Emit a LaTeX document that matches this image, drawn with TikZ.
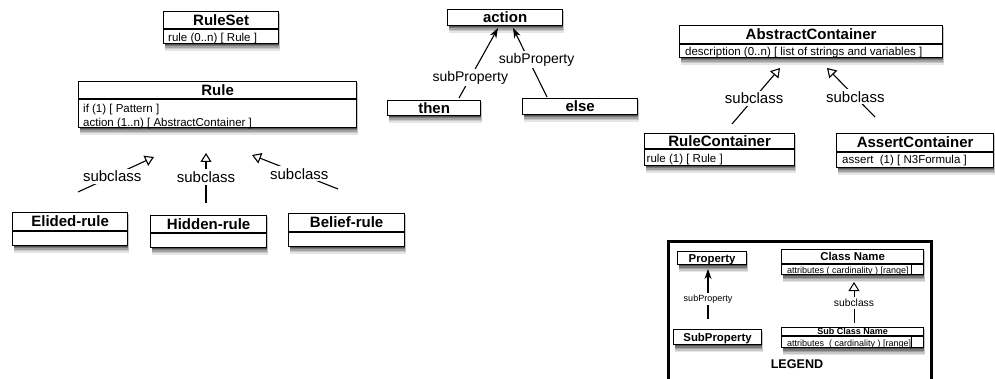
\documentclass[tikz,border=0pt]{standalone}
\usepackage{fontspec}
\setmainfont{Liberation Sans}
\usetikzlibrary{arrows.meta}
\tikzset{
  cls/.style={draw, line width=1.2pt, fill=white, inner sep=0pt, anchor=north west},
  ttl/.style={font=\fontsize{15}{15}\selectfont\bfseries, inner sep=0pt, text height=10.8pt, text depth=0pt},
  lttl/.style={font=\fontsize{11.4}{12}\selectfont\bfseries, inner sep=0pt, text height=8.2pt, text depth=0pt},
  sttl/.style={font=\fontsize{9}{10}\selectfont\bfseries, inner sep=0pt, text height=6.5pt, text depth=0pt},
  attr/.style={font=\fontsize{11.5}{12}\selectfont, inner sep=0pt, anchor=base west},
  lattr/.style={font=\fontsize{9}{10}\selectfont, inner sep=0pt, anchor=base west},
  lbl/.style={font=\fontsize{15}{15}\selectfont, fill=white, inner sep=2pt},
  plbl/.style={font=\fontsize{14}{14}\selectfont, fill=white, inner sep=2pt},
  slbl/.style={font=\fontsize{9}{10}\selectfont, fill=white, inner sep=2pt},
  sclbl/.style={font=\fontsize{10.3}{11}\selectfont, fill=white, inner sep=2pt},
  subcls/.style={line width=1.1pt, -{Triangle[open, width=11pt, length=9pt]}},
  subprop/.style={line width=1.1pt, -{Stealth[width=7pt, length=10pt, inset=3pt]}},
}
% soft shadow under a box: #1 x, #2 y, #3 width, #4 height
\newcommand\softshadow[4]{%
  \fill[black!10] ({#1+2},{#2+2}) rectangle ({#1+#3+2},{#2+#4+8});
  \fill[black!22] ({#1+2},{#2+2}) rectangle ({#1+#3+1.5},{#2+#4+6.5});
  \fill[black!36] ({#1+2},{#2+2}) rectangle ({#1+#3+1},{#2+#4+5});
  \fill[black!52] ({#1+2},{#2+2}) rectangle ({#1+#3+1},{#2+#4+3.5});
  \fill[black!68] ({#1+2},{#2+2}) rectangle ({#1+#3+0.5},{#2+#4+2});
}
% #1 title style, #2 name, #3 x, #4 y, #5 width, #6 height, #7 divider offset, #8 title
\newcommand\clsbox[8][ttl]{%
  \softshadow{#3}{#4}{#5}{#6}
  \node[cls, minimum width=#5pt, minimum height=#6pt] (#2) at (#3,#4) {};
  \draw[line width=1.2pt] ([yshift=-#7pt]#2.north west) -- ([yshift=-#7pt]#2.north east);
  \node[#1] at ([yshift=-#7pt*0.5]#2.north) {#8};
}
% plain box: #1 title style, #2 name, #3 x, #4 y, #5 width, #6 height, #7 title
\newcommand\plainbox[7][ttl]{%
  \softshadow{#3}{#4}{#5}{#6}
  \node[cls, minimum width=#5pt, minimum height=#6pt] (#2) at (#3,#4) {};
  \node[#1] at (#2.center) {#7};
}
\begin{document}
\begin{tikzpicture}[x=1pt, y=-1pt]
\useasboundingbox (0,0) rectangle (995,379);

% ---- RuleSet / Rule ----
\clsbox{ruleset}{163}{11}{115}{32}{18}{RuleSet}
\node[attr] at ([xshift=5pt, yshift=2.5pt]ruleset.south west) {rule (0..n) [ Rule ]};

\clsbox{rule}{78}{81}{278}{46}{18}{Rule}
\node[attr] at ([xshift=5pt, yshift=15.5pt]rule.south west) {if (1) [ Pattern ]};
\node[attr] at ([xshift=5pt, yshift=2pt]rule.south west) {action (1..n) [ AbstractContainer ]};

\clsbox{elided}{12}{212}{115}{33}{19}{Elided-rule}
\clsbox{hidden}{150}{215}{116}{32}{18}{Hidden-rule}
\clsbox{belief}{288}{213}{116}{33}{19}{Belief-rule}

\coordinate (e1) at (78,192);  \coordinate (e2) at (154,157);
\coordinate (h1) at (206,203); \coordinate (h2) at (206,153);
\coordinate (b1) at (338,189); \coordinate (b2) at (252,155);
\draw[subcls] (e1) -- node[lbl, pos=0.45] {subclass} (e2);
\draw[subcls] (h1) -- node[lbl, pos=0.52] {subclass} (h2);
\draw[subcls] (b1) -- node[lbl, pos=0.45] {subclass} (b2);

% ---- action / then / else ----
\plainbox{action}{447}{9}{115}{16}{action}
\plainbox{then}{387}{100}{93}{15}{then}
\plainbox{else}{522}{98}{115}{16}{else}
\coordinate (t1) at (459,98);  \coordinate (t2) at (498,28);
\coordinate (s1) at (547,97);  \coordinate (s2) at (513,28);
\draw[subprop] (t1) -- node[plbl, pos=0.29] {subProperty} (t2);
\draw[subprop] (s1) -- node[plbl, pos=0.54, xshift=8pt] {subProperty} (s2);

% ---- AbstractContainer ----
\clsbox{abstract}{679}{25}{263}{32}{19}{AbstractContainer}
\node[attr] at ([xshift=6pt, yshift=2.5pt]abstract.south west) {description (0..n) [ list of strings and variables ]};

\clsbox{rulec}{644}{133}{150}{32}{16}{RuleContainer}
\node[attr] at ([xshift=2.5pt, yshift=3.3pt]rulec.south west) {rule (1) [ Rule ]};

\clsbox{assertc}{836}{133}{157}{34}{19}{AssertContainer}
\node[attr] at ([xshift=6pt, yshift=4.3pt]assertc.south west) {assert\ \ (1) [ N3Formula ]};

\coordinate (r1) at (732,124); \coordinate (r2) at (780,68);
\coordinate (a1) at (875,117); \coordinate (a2) at (827,68);
\draw[subcls] (r1) -- node[lbl, pos=0.46] {subclass} (r2);
\draw[subcls] (a1) -- node[lbl, pos=0.41] {subclass} (a2);

% ---- Legend ----
\node[draw, line width=2.6pt, minimum width=263pt, minimum height=160pt, anchor=north west, inner sep=0pt] (legend) at (667,240) {};
\plainbox[lttl]{prop}{677}{251}{69}{13}{Property}
\plainbox[lttl]{subprop}{673}{329}{88}{15}{SubProperty}
\coordinate (p1) at (708,319); \coordinate (p2) at (708,269);
\draw[subprop] (p1) -- node[slbl, pos=0.4] {subProperty} (p2);

\clsbox[lttl]{cname}{781}{249}{142}{25}{15}{Class Name}
\node[lattr] at ([xshift=6pt, yshift=2pt]cname.south west) {attributes ( cardinality ) [range]};
\draw[line width=0.6pt] ([yshift=-15pt, xshift=130pt]cname.north west) -- ([xshift=130pt]cname.south west);

\clsbox[sttl]{sname}{781}{327}{142}{20}{9}{Sub Class Name}
\node[lattr] at ([xshift=6pt, yshift=2pt]sname.south west) {attributes\ \ ( cardinality ) [range]};
\draw[line width=0.6pt] ([yshift=-9pt, xshift=130pt]sname.north west) -- ([xshift=130pt]sname.south west);

\coordinate (c1) at (854,323); \coordinate (c2) at (854,282);
\draw[subcls, line width=1pt] (c1) -- node[sclbl, pos=0.49] {subclass} (c2);

\node[font=\fontsize{12.6}{13}\selectfont\bfseries, inner sep=0pt] (legendtitle) at (797,364) {LEGEND};
\end{tikzpicture}
\end{document}
